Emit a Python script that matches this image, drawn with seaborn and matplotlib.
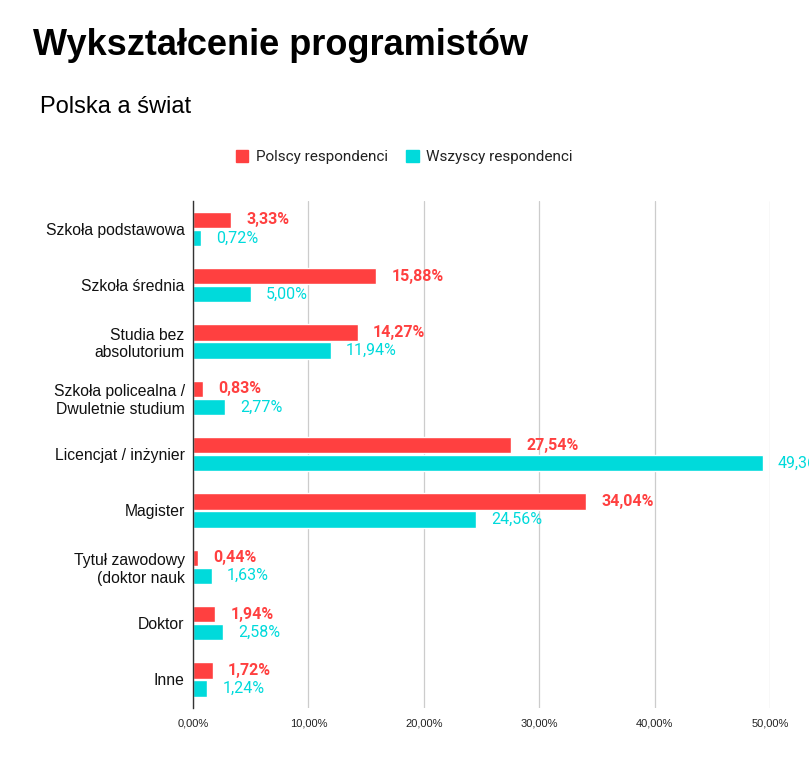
import pandas as pd
import matplotlib.pyplot as plt
import seaborn as sns
from matplotlib.patches import Patch

# Data
categories = ['Szkoła podstawowa', 'Szkoła średnia', 'Studia bez\nabsolutorium',
              'Szkoła policealna /\nDwuletnie studium', 'Licencjat / inżynier', 'Magister',
              'Tytuł zawodowy\n(doktor nauk', 'Doktor', 'Inne']
polscy = [3.33, 15.88, 14.27, 0.83, 27.54, 34.04, 0.44, 1.94, 1.72]
wszyscy = [0.72, 5.00, 11.94, 2.77, 49.36, 24.56, 1.63, 2.58, 1.24]
series = ['Polscy respondenci', 'Wszyscy respondenci']
colors = ['#ff4040', '#00dadb']

df = pd.DataFrame({
    'kategoria': categories * 2,
    'procent': polscy + wszyscy,
    'seria': [series[0]] * len(categories) + [series[1]] * len(categories),
})

sns.set_theme(style='white')
plt.rcParams['font.family'] = ['Liberation Sans', 'DejaVu Sans']
plt.rcParams['text.color'] = '#000000'

fig = plt.figure(figsize=(8.09, 7.75), dpi=100)
ax = fig.add_axes([0.2386, 0.087, 0.7132, 0.654])

sns.barplot(data=df, y='kategoria', x='procent', hue='seria', palette=colors,
            orient='h', width=0.64, gap=0.1, ax=ax, legend=False, saturation=1)

# value labels (Roboto like in the original)
for cont, vals, col, wt in zip(ax.containers, [polscy, wszyscy], colors, ['bold', 'normal']):
    labels = [f"{v:.2f}%".replace('.', ',') for v in vals]
    ax.bar_label(cont, labels=labels, padding=11, color=col, fontsize=11.5,
                 fontweight=wt, family='Roboto')

ax.set_xlim(0, 50)
ax.set_xticks([0, 10, 20, 30, 40, 50])
ax.set_xticklabels([f"{t},00%" for t in [0, 10, 20, 30, 40, 50]], fontsize=8, color='#222222')
ax.tick_params(axis='y', labelsize=11.3, length=0, pad=6)
ax.tick_params(axis='x', length=0, pad=8)
ax.xaxis.grid(True, color='#cccccc', linewidth=0.9)
ax.set_axisbelow(True)
ax.set_xlabel('')
ax.set_ylabel('')
for s in ['top', 'right', 'bottom']:
    ax.spines[s].set_visible(False)
ax.spines['left'].set_color('#333333')
ax.spines['left'].set_linewidth(1.0)
for lbl in ax.get_yticklabels():
    lbl.set_color('#111111')

fig.text(0.041, 0.941, 'Wykształcenie programistów', fontsize=26, fontweight='bold', va='center')
fig.text(0.049, 0.862, 'Polska a świat', fontsize=17, va='center')

handles = [Patch(color=c, label=s) for c, s in zip(colors, series)]
fig.legend(handles=handles, loc='center', bbox_to_anchor=(0.50, 0.797), ncol=2,
           frameon=False, handlelength=0.8, handleheight=0.8,
           columnspacing=1.2, handletextpad=0.5, labelcolor='#222222',
           prop={'family': 'Roboto', 'size': 11})

fig.savefig('out.png', dpi=100)
